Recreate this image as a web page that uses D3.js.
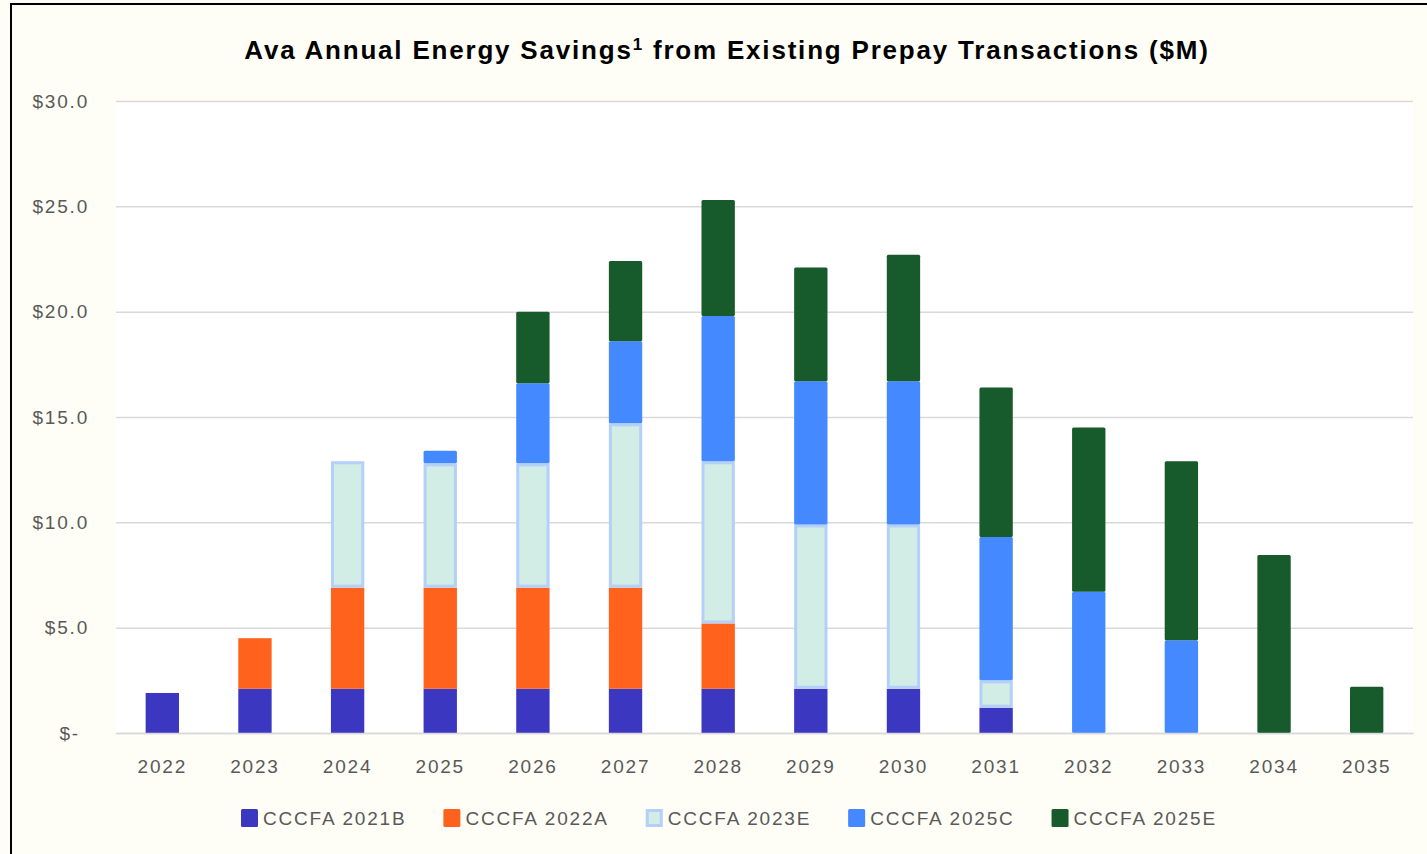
<!DOCTYPE html>
<html>
<head>
<meta charset="utf-8">
<script src="https://cdn.jsdelivr.net/npm/d3@7"></script>
<style>
    html, body { margin: 0; padding: 0; background: #fefef6; }
    .canvas svg { display: block; }
</style>
</head>
<body>
<div class="canvas"></div>
<script>
// Chart data
const years = ['2022', '2023', '2024', '2025', '2026', '2027', '2028',
    '2029', '2030', '2031', '2032', '2033', '2034', '2035'];
const cccfa2021B = [1.9, 2.1, 2.1, 2.1, 2.1, 2.1, 2.1, 2.1, 2.1, 1.2, 0, 0, 0, 0];
const cccfa2022A = [0, 2.4, 4.8, 4.8, 4.8, 4.8, 3.1, 0, 0, 0, 0, 0, 0, 0];
const cccfa2023E = [0, 0, 6.0, 5.9, 5.9, 7.8, 7.7, 7.8, 7.8, 1.3, 0, 0, 0, 0];
const cccfa2025C = [0, 0, 0, 0.6, 3.8, 3.9, 6.9, 6.8, 6.8, 6.8, 6.7, 4.4, 0, 0];
const cccfa2025E = [0, 0, 0, 0, 3.4, 3.8, 5.5, 5.4, 6.0, 7.1, 7.8, 8.5, 8.45, 2.2];
const seriesNames = ['CCCFA 2021B', 'CCCFA 2022A', 'CCCFA 2023E', 'CCCFA 2025C', 'CCCFA 2025E'];
const yTicks = [0, 5, 10, 15, 20, 25, 30];

const colors = {
    'CCCFA 2021B': '#3c37c0',
    'CCCFA 2022A': '#ff621c',
    'CCCFA 2023E': '#d2ece6',
    'CCCFA 2025C': '#4489ff',
    'CCCFA 2025E': '#175a2c'
};
const outlineColor = '#b4d0f8';

const outerWidth = 1427;
const outerHeight = 854;
const margin = {top: 101, right: 14, bottom: 121, left: 116};
const graphWidth = outerWidth - margin.left - margin.right;
const graphHeight = outerHeight - margin.top - margin.bottom;

const svg = d3.select('.canvas')
    .append('svg')
    .attr('width', outerWidth)
    .attr('height', outerHeight);

// Background + frame
svg.append('rect')
    .attr('width', outerWidth)
    .attr('height', outerHeight)
    .attr('fill', '#fefef6');

svg.append('rect')
    .attr('x', 11)
    .attr('y', 4)
    .attr('width', outerWidth + 20)
    .attr('height', outerHeight + 20)
    .attr('fill', 'none')
    .attr('stroke', '#000')
    .attr('stroke-width', 2);

// Title
const title = svg.append('text')
    .attr('x', 727)
    .attr('y', 59)
    .attr('text-anchor', 'middle')
    .attr('font-family', 'Liberation Sans, Arial, sans-serif')
    .attr('font-weight', 'bold')
    .attr('font-size', 26)
    .attr('letter-spacing', 1.8)
    .attr('fill', '#000');
title.append('tspan').text('Ava Annual Energy Savings');
title.append('tspan').attr('font-size', 17).attr('dy', -9).text('1');
title.append('tspan').attr('dy', 9).text(' from Existing Prepay Transactions ($M)');

const graph = svg.append('g')
    .attr('transform', `translate(${margin.left}, ${margin.top})`);

graph.append('rect')
    .attr('width', graphWidth)
    .attr('height', graphHeight)
    .attr('fill', '#fff');

const x = d3.scaleBand()
    .domain(years)
    .range([0, graphWidth])
    .paddingInner(0.64)
    .paddingOuter(0.32);

const y = d3.scaleLinear()
    .domain([0, 30])
    .range([graphHeight, 0]);

// Y axis with gridlines
const yAxis = d3.axisLeft(y)
    .tickValues(yTicks)
    .tickSize(-graphWidth)
    .tickPadding(27)
    .tickFormat(d => d === 0 ? '$-' : '$' + d3.format('.1f')(d));

const yAxisGroup = graph.append('g').call(yAxis);
yAxisGroup.select('.domain').remove();
yAxisGroup.selectAll('line')
    .attr('stroke', '#d9d9d9')
    .attr('stroke-width', 1.5);
yAxisGroup.selectAll('text')
    .attr('fill', '#595959')
    .attr('font-family', 'Liberation Sans, Arial, sans-serif')
    .attr('font-size', 19)
    .attr('letter-spacing', 1.8)
    .attr('dx', d => d === 0 ? -9 : 0);

// Stack the series
const table = years.map((yr, i) => ({
    year: yr,
    'CCCFA 2021B': cccfa2021B[i],
    'CCCFA 2022A': cccfa2022A[i],
    'CCCFA 2023E': cccfa2023E[i],
    'CCCFA 2025C': cccfa2025C[i],
    'CCCFA 2025E': cccfa2025E[i]
}));

const stacked = d3.stack().keys(seriesNames)(table);

const layers = graph.selectAll('g.layer')
    .data(stacked)
    .enter()
    .append('g')
    .attr('class', 'layer');

layers.each(function(layer) {
    const outlined = layer.key === 'CCCFA 2023E';
    const rounded = layer.key === 'CCCFA 2025C' || layer.key === 'CCCFA 2025E';
    const sw = outlined ? 3 : 0;
    d3.select(this).selectAll('rect')
        .data(layer.filter(d => d[1] - d[0] > 0))
        .enter()
        .append('rect')
        .attr('x', d => x(d.data.year) + sw / 2)
        .attr('y', d => y(d[1]) + sw / 2)
        .attr('width', x.bandwidth() - sw)
        .attr('height', d => Math.max(0, y(d[0]) - y(d[1]) - sw))
        .attr('rx', rounded ? 1.5 : 0)
        .attr('fill', colors[layer.key])
        .attr('stroke', outlined ? outlineColor : 'none')
        .attr('stroke-width', sw);
});

// X axis
const xAxis = d3.axisBottom(x)
    .tickSize(0)
    .tickPadding(27);

const xAxisGroup = graph.append('g')
    .attr('transform', `translate(0, ${graphHeight})`)
    .call(xAxis);
xAxisGroup.select('.domain')
    .attr('stroke', '#d9d9d9')
    .attr('stroke-width', 1.5);
xAxisGroup.selectAll('text')
    .attr('fill', '#595959')
    .attr('font-family', 'Liberation Sans, Arial, sans-serif')
    .attr('font-size', 19)
    .attr('letter-spacing', 1.8);

// Legend
const legend = svg.append('g')
    .attr('transform', 'translate(241, 809)');

let legendX = 0;
seriesNames.forEach(name => {
    const item = legend.append('g').attr('transform', `translate(${legendX}, 0)`);
    const outlined = name === 'CCCFA 2023E';
    item.append('rect')
        .attr('x', outlined ? 1.5 : 0)
        .attr('y', outlined ? 1.5 : 0)
        .attr('width', outlined ? 14 : 17)
        .attr('height', outlined ? 15 : 18)
        .attr('rx', outlined ? 0 : 1.5)
        .attr('fill', colors[name])
        .attr('stroke', outlined ? outlineColor : 'none')
        .attr('stroke-width', outlined ? 3 : 0);
    const label = item.append('text')
        .attr('x', 22)
        .attr('y', 16)
        .attr('fill', '#595959')
        .attr('font-family', 'Liberation Sans, Arial, sans-serif')
        .attr('font-size', 19)
        .attr('letter-spacing', 1.8)
        .text(name);
    legendX += 22 + label.node().getComputedTextLength() + 37;
});
</script>
</body>
</html>
